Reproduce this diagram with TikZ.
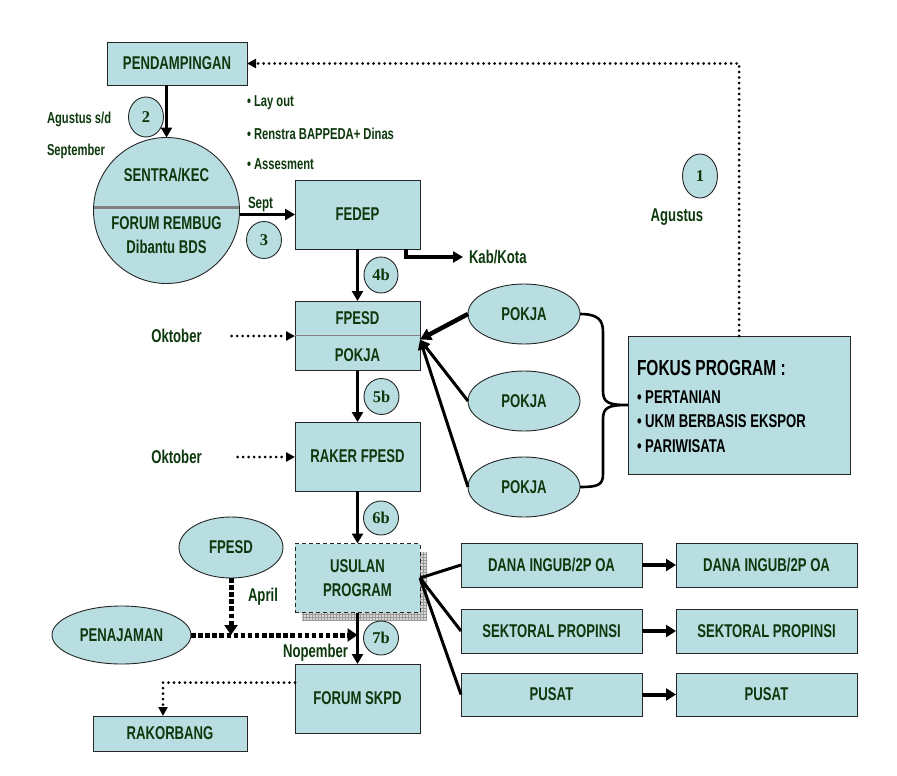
\documentclass[tikz,border=0pt]{standalone}
\usepackage{fontspec}
\setmainfont{Liberation Sans}[FakeStretch=0.71]
\newfontfamily\numfont{Liberation Serif}
\usetikzlibrary{arrows.meta,shapes.geometric,calc,patterns}
\definecolor{boxfill}{RGB}{184,222,226}
\definecolor{labgreen}{RGB}{12,56,12}
\begin{document}
\begin{tikzpicture}[x=1pt,y=-1pt,
  every node/.style={inner sep=0pt, outer sep=0pt},
  box/.style={draw=black!85, line width=0.9pt, fill=boxfill, text=labgreen,
    font=\fontsize{18.5}{21}\selectfont\bfseries},
  oval/.style={ellipse, draw=black!85, line width=0.9pt, fill=boxfill, text=labgreen,
    font=\fontsize{18.5}{21}\selectfont\bfseries},
  numc/.style={ellipse, draw=black!85, line width=0.9pt, fill=boxfill, text=labgreen,
    font=\numfont\fontsize{16.5}{18}\selectfont\bfseries},
  lbl/.style={text=labgreen, font=\fontsize{18.5}{21}\selectfont\bfseries},
  small/.style={text=labgreen, font=\fontsize{15.8}{18}\selectfont\bfseries},
  fk/.style={text=black, font=\fontsize{18.5}{21}\selectfont\bfseries, anchor=west},
  arr/.style={line width=3.5pt, -{Triangle[length=10pt,width=11pt]}},
  link/.style={line width=3pt},
  dotline/.style={line width=3pt, line cap=round, dash pattern=on 0pt off 5.5pt},
  dotarr/.style={dotline, -{Triangle[length=9pt,width=9pt]}},
  bigdot/.style={line width=5pt, dash pattern=on 4.5pt off 2.6pt, -{Triangle[length=10pt,width=13pt]}}
]
\useasboundingbox (0,0) rectangle (897,776);

% --- upper left: assistance and sentra forum
\node[box, minimum width=140pt, minimum height=43pt] (pend) at (177,63.5) {PENDAMPINGAN};
\node[numc, minimum width=35pt, minimum height=40pt] (c2) at (146,117) {2};
\node[circle, draw=black!85, line width=0.9pt, fill=boxfill, minimum size=146pt] (sentra) at (166.5,210.5) {};
\draw[gray, line width=3pt] ($(sentra.center)+(-72.8,-3.5)$) -- ($(sentra.center)+(72.8,-3.5)$);
\node[lbl] (sk) at (166.5,175) {SENTRA/KEC};
\node[lbl] (fr) at (166.5,223) {FORUM REMBUG};
\node[lbl] (db) at (166.5,247) {Dibantu BDS};

\node[small, anchor=west] (ags) at (47,119) {Agustus s/d};
\node[small, anchor=west] (sep) at (47,151) {September};

\node[small, anchor=west] (b1) at (247,103) {• Lay out};
\node[small, anchor=west] (b2) at (247,134) {• Renstra BAPPEDA+ Dinas};
\node[small, anchor=west] (b3) at (247,164) {• Assesment};

% --- main column
\node[box, minimum width=125pt, minimum height=69pt] (fedep) at (357.5,214.5) {FEDEP};
\node[small, anchor=west, font=\fontsize{16.3}{18}\selectfont\bfseries] (sept) at (248,204) {Sept};
\node[numc, minimum width=35pt, minimum height=37pt] (c3) at (264,240) {3};

\node[lbl, anchor=west] (kab) at (469,257) {Kab/Kota};

\node[numc, minimum width=34pt, minimum height=36pt] (c4) at (381,275) {4b};
\node[box, minimum width=125pt, minimum height=69pt] (fpesd) at (357.5,335.5) {};
\draw[gray, line width=1.2pt] (fpesd.west) -- (fpesd.east);
\node[lbl] (fpt) at (357.5,318) {FPESD};
\node[lbl] (fpb) at (357.5,355) {POKJA};

\node[numc, minimum width=35pt, minimum height=36pt] (c5) at (381.5,396.5) {5b};
\node[box, minimum width=125pt, minimum height=69pt] (raker) at (357.5,456.5) {RAKER FPESD};

\node[numc, minimum width=35pt, minimum height=34pt] (c6) at (381,518) {6b};
% shadow of the proposal box
\path[preaction={fill=gray!30}, pattern=grid, pattern color=gray!80] (302,552) rectangle (427,620);
\node[box, dashed, dash pattern=on 4pt off 3pt, minimum width=125pt, minimum height=69pt, align=center,
  font=\fontsize{18.5}{24}\selectfont\bfseries] (usulan) at (357.5,578) {USULAN\\PROGRAM};

\node[numc, minimum width=35pt, minimum height=34pt] (c7) at (381,638) {7b};
\node[box, minimum width=125pt, minimum height=69pt] (forum) at (357.5,698.5) {FORUM SKPD};
\node[box, minimum width=154pt, minimum height=35pt] (rakor) at (170,733.5) {RAKORBANG};

\node[lbl] (okt1) at (176.5,336) {Oktober};
\node[lbl] (okt2) at (176.5,457) {Oktober};

% --- lower left inputs
\node[oval, minimum width=104pt, minimum height=61pt] (fpe) at (231,547.5) {FPESD};
\node[oval, minimum width=139pt, minimum height=58pt] (penaj) at (121.5,635) {PENAJAMAN};
\node[lbl, anchor=west] (apr) at (248,597) {April};
\node[lbl] (nop) at (315.5,653) {Nopember};

% --- working groups and programme focus
\node[oval, minimum width=112pt, minimum height=60pt] (pokja1) at (524,314) {POKJA};
\node[oval, minimum width=112pt, minimum height=60pt] (pokja2) at (524,401) {POKJA};
\node[oval, minimum width=112pt, minimum height=60pt] (pokja3) at (524,487) {POKJA};

\node[box, minimum width=222pt, minimum height=138pt] (fokus) at (739,405) {};
\node[fk, font=\fontsize{21.8}{24}\selectfont\bfseries] (fk0) at (637,368) {FOKUS PROGRAM :};
\node[fk] (fk1) at (637,397) {• PERTANIAN};
\node[fk] (fk2) at (637,421) {• UKM BERBASIS EKSPOR};
\node[fk] (fk3) at (637,446) {• PARIWISATA};

\node[numc, minimum width=35pt, minimum height=44pt] (c1) at (700,176) {1};
\node[lbl] (agt) at (677,217) {Agustus};

% --- funding channels
\node[box, minimum width=181pt, minimum height=44pt] (dana1) at (551.5,565) {DANA INGUB/2P OA};
\node[box, minimum width=181pt, minimum height=44pt] (dana2) at (766.5,565) {DANA INGUB/2P OA};
\node[box, minimum width=181pt, minimum height=44pt] (sekt1) at (551.5,631) {SEKTORAL PROPINSI};
\node[box, minimum width=181pt, minimum height=44pt] (sekt2) at (766.5,631) {SEKTORAL PROPINSI};
\node[box, minimum width=181pt, minimum height=43pt] (pusat1) at (551.5,694.5) {PUSAT};
\node[box, minimum width=181pt, minimum height=43pt] (pusat2) at (766.5,694.5) {PUSAT};

% --- connectors
\draw[dotarr] (fokus.north) |- (pend.east);
\draw[arr] (pend.south -| sentra.north) -- (sentra.north);
\draw[arr] (fedep.west -| sentra.east) -- (fedep.west);
\draw[arr, shorten >=6pt] ($(fedep.south east)+(-14,0)$) |- (kab.west);
\draw[arr] (fedep.south) -- (fpesd.north);
\draw[arr] (fpesd.south) -- (raker.north);
\draw[arr] (raker.south) -- (usulan.north);
\draw[arr] (usulan.south) -- (forum.north);
\draw[dotarr, shorten <=30pt] (okt1.east) -- (okt1.east -| fpesd.west);
\draw[dotarr, shorten <=36pt] (okt2.east) -- (okt2.east -| raker.west);

\draw[line width=4.5pt, -{Triangle[length=11pt,width=12pt]}] (pokja1.west) -- ($(fpesd.east)+(0,4)$);
\draw[line width=3pt, -{Triangle[length=10pt,width=10pt]}] (pokja2.west) -- ($(fpesd.east)+(0,4)$);
\draw[line width=3pt, -{Triangle[length=10pt,width=10pt]}] (pokja3.west) -- ($(fpesd.east)+(0,4)$);

\draw[link, line width=2.6pt] (pokja1.east) .. controls (598,314) and (603,320) .. (603,332)
  -- (603,391) .. controls (603,403) and (609,405) .. (fokus.west)
  .. controls (609,405) and (603,407) .. (603,419)
  -- (603,474) .. controls (603,485) and (598,487) .. (pokja3.east);

\draw[link] (usulan.east) -- (dana1.west);
\draw[link] (usulan.east) -- (sekt1.west);
\draw[link] (usulan.east) -- (pusat1.west);
\draw[line width=4pt, -{Triangle[length=10pt,width=12pt]}] (dana1.east) -- (dana2.west);
\draw[line width=4pt, -{Triangle[length=10pt,width=12pt]}] (sekt1.east) -- (sekt2.west);
\draw[line width=4pt, -{Triangle[length=10pt,width=12pt]}] (pusat1.east) -- (pusat2.west);

\draw[bigdot] (fpe.south) -- (fpe.south |- penaj.east);
\draw[bigdot] (penaj.east) -- (penaj.east -| usulan.south);
\draw[dotarr] ($(forum.west)+(0,-16)$) -| ($(rakor.north)+(-7,0)$);
\end{tikzpicture}
\end{document}
